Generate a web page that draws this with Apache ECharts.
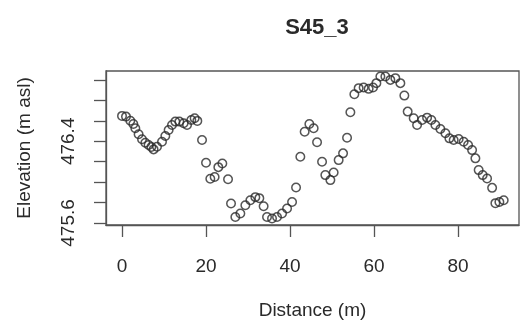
<!DOCTYPE html>
<html>
<head>
<meta charset="utf-8">
<script src="https://cdn.jsdelivr.net/npm/echarts@6/dist/echarts.min.js"></script>
<style>html,body{margin:0;padding:0;background:#fff}#c{width:524px;height:328px}</style>
</head>
<body>
<div id="c"></div>
<script>
const titleText = "S45_3";
const xTitle = "Distance (m)";
const yTitle = "Elevation (m asl)";
const distance = [0, 0.95, 1.98, 2.7, 3.17, 3.95, 4.76, 5.55, 6.33, 6.98, 7.52, 8.33, 9.52, 10.31, 11.1, 11.9, 12.69, 13.64, 14.67, 15.48, 16.5, 17.29, 17.93, 19.05, 20.0, 21.02, 22.05, 22.93, 23.88, 25.24, 25.95, 26.98, 28.17, 29.36, 30.55, 31.74, 32.69, 33.71, 34.52, 35.71, 36.9, 38.1, 39.29, 40.48, 41.43, 42.45, 43.48, 44.6, 45.62, 46.43, 47.62, 48.4, 49.6, 50.38, 51.57, 52.62, 53.57, 54.36, 55.31, 56.33, 57.52, 58.71, 59.76, 60.55, 61.5, 62.69, 63.88, 65.07, 66.26, 67.21, 68.0, 69.43, 70.24, 71.43, 72.62, 73.64, 74.6, 75.79, 76.98, 77.93, 78.95, 80.14, 81.33, 82.38, 83.33, 84.12, 84.9, 85.86, 86.9, 88.1, 88.88, 89.83, 90.86];
const elevation = [476.649, 476.642, 476.602, 476.57, 476.528, 476.469, 476.42, 476.386, 476.364, 476.344, 476.321, 476.347, 476.396, 476.452, 476.511, 476.56, 476.593, 476.593, 476.577, 476.56, 476.609, 476.626, 476.6, 476.413, 476.19, 476.034, 476.05, 476.147, 476.182, 476.029, 475.791, 475.659, 475.692, 475.774, 475.823, 475.853, 475.843, 475.764, 475.659, 475.643, 475.659, 475.692, 475.742, 475.806, 475.948, 476.249, 476.494, 476.57, 476.528, 476.39, 476.2, 476.069, 476.02, 476.095, 476.216, 476.282, 476.435, 476.685, 476.862, 476.921, 476.927, 476.914, 476.927, 476.97, 477.035, 477.035, 477.002, 477.019, 476.97, 476.848, 476.691, 476.626, 476.56, 476.609, 476.632, 476.609, 476.56, 476.521, 476.479, 476.429, 476.413, 476.423, 476.396, 476.364, 476.314, 476.233, 476.118, 476.069, 476.036, 475.944, 475.794, 475.806, 475.823];
const xTicks = [0, 20, 40, 60, 80];
const yTicks = [475.6, 475.8, 476.0, 476.2, 476.4, 476.6, 476.8, 477.0];
const yLabels = [475.6, 476.4];

const chart = echarts.init(document.getElementById('c'), null, {renderer: 'canvas'});
const txt = '#2a2a2a';
const font = 'Liberation Sans, Arial, sans-serif';
chart.setOption({
  animation: false,
  backgroundColor: '#fff',
  title: {
    text: titleText, left: 312, top: 12, textAlign: 'center',
    textStyle: {fontFamily: font, fontSize: 22, fontWeight: 'bold', color: txt}
  },
  grid: {left: 106, right: 5, top: 71, bottom: 103, show: true, borderColor: '#555', borderWidth: 1.3, containLabel: false},
  xAxis: {
    type: 'value', min: -3.81, max: 94.5,
    name: xTitle, nameLocation: 'middle', nameGap: 76,
    nameTextStyle: {fontFamily: font, fontSize: 19, color: txt},
    axisLine: {show: true, onZero: false, lineStyle: {color: '#555', width: 1.3}},
    axisTick: {show: true, length: 12, customValues: xTicks, lineStyle: {color: '#555', width: 1.3}},
    axisLabel: {customValues: xTicks, margin: 32, fontFamily: font, fontSize: 19, color: txt},
    splitLine: {show: false}
  },
  yAxis: {
    type: 'value', min: 475.58, max: 477.089,
    name: yTitle, nameLocation: 'middle', nameGap: 72, nameRotate: 90,
    nameTextStyle: {fontFamily: font, fontSize: 19, color: txt},
    axisLine: {show: true, onZero: false, lineStyle: {color: '#555', width: 1.3}},
    axisTick: {show: true, length: 12, customValues: yTicks, lineStyle: {color: '#555', width: 1.3}},
    axisLabel: {customValues: yLabels, rotate: 90, margin: 28, fontFamily: font, fontSize: 19, color: txt,
      formatter: v => v.toFixed(1)},
    splitLine: {show: false}
  },
  series: [{
    type: 'scatter',
    data: distance.map((d, i) => [d, elevation[i]]),
    symbol: 'circle', symbolSize: 8.5,
    itemStyle: {color: 'transparent', borderColor: '#2a2a2a', borderWidth: 1.5}
  }]
});
</script>
</body>
</html>
